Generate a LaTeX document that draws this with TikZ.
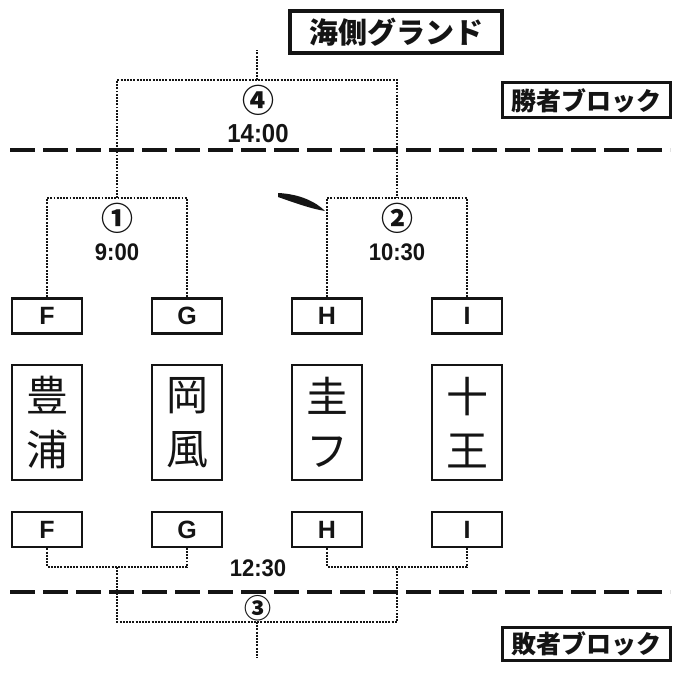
\documentclass[tikz,border=0pt]{standalone}
\usepackage{fontspec}
\setmainfont{Liberation Sans}
\newfontfamily\cjk{Noto Sans CJK JP}
\usepackage{tikz}
\usetikzlibrary{positioning}
\usepackage{xcolor}
\definecolor{ink}{RGB}{20,20,20}
\tikzstyle{teambox} = [rectangle, draw=ink, fill=white, line width=2.8pt, minimum width=70pt, minimum height=35pt, inner sep=0pt, text=ink, font=\bfseries\fontsize{25}{25}\selectfont]
\tikzstyle{namebox} = [rectangle, draw=ink, fill=white, line width=2.6pt, minimum width=70pt, minimum height=115pt, inner sep=0pt, align=center, text=ink, font=\cjk\fontsize{42}{54}\selectfont]
\tikzstyle{blockbox} = [rectangle, draw=ink, fill=white, line width=3pt, minimum width=168pt, minimum height=35pt, inner sep=0pt, text=ink, font=\cjk\bfseries\fontsize{25}{25}\selectfont]
\tikzstyle{bracket} = [draw=ink, line width=2.5pt, dash pattern=on 1.9pt off 1.3pt]
\tikzstyle{divider} = [draw=ink, line width=4pt, dash pattern=on 25pt off 8pt]
\tikzstyle{matchno} = [inner sep=0pt, text=ink, font=\cjk\bfseries\fontsize{32}{32}\selectfont]
\tikzstyle{clock} = [inner sep=0pt, text=ink, xscale=0.92, font=\bfseries\fontsize{24}{24}\selectfont]

\begin{document}
\begin{tikzpicture}[x=1pt, y=-1pt, node distance=140pt]
\useasboundingbox[fill=white] (0,0) rectangle (676,690);
% Blocks
\node (ground) [blockbox, minimum width=212pt, minimum height=42pt, line width=3.5pt, font=\cjk\bfseries\fontsize{29}{29}\selectfont] at (396,32) {海側グランド};
\node (winners) [blockbox] at (586,100.5) {勝者ブロック};
\node (losers) [blockbox, minimum height=33pt] at (586,643.5) {敗者ブロック};

% Dividers
\draw[divider] (10,150) -- (670,150);
\draw[divider] (10,592) -- (670,592);

% Teams, top row
\node (topF) [teambox] at (47,316) {F};
\node (topG) [teambox, right of=topF] {G};
\node (topH) [teambox, right of=topG] {H};
\node (topI) [teambox, right of=topH] {I};

% Names
\node (nameF) [namebox, below of=topF, node distance=106.5pt] {豊\\浦};
\node (nameG) [namebox, below of=topG, node distance=106.5pt] {岡\\風};
\node (nameH) [namebox, below of=topH, node distance=106.5pt] {圭\\フ};
\node (nameI) [namebox, below of=topI, node distance=106.5pt] {十\\王};

% Teams, bottom row
\node (botF) [teambox, below of=nameF, node distance=107pt] {F};
\node (botG) [teambox, below of=nameG, node distance=107pt] {G};
\node (botH) [teambox, below of=nameH, node distance=107pt] {H};
\node (botI) [teambox, below of=nameI, node distance=107pt] {I};

% Joints
\coordinate (m1) at (117,198);
\coordinate (m2) at (397,198);
\coordinate (m4) at (257,80);
\coordinate (topend) at (257,50);
\coordinate (m3a) at (117,567);
\coordinate (m3b) at (397,567);
\coordinate (m3) at (257,622);
\coordinate (botend) at (257,658);

% Brackets
\draw[bracket] (topF.north) |- (m1) -| (topG.north);
\draw[bracket] (topH.north) |- (m2) -| (topI.north);
\draw[bracket] (m1) |- (m4) -| (m2);
\draw[bracket] (m4) -- (topend);
\draw[bracket] (botF.south) |- (m3a) -| (botG.south);
\draw[bracket] (botH.south) |- (m3b) -| (botI.south);
\draw[bracket] (m3a) |- (m3) -| (m3b);
\draw[bracket] (m3) -- (botend);

% Matches
\node (game1) [matchno] at (117,218) {①};
\node (time1) [clock] at (117,252) {9:00};
\node (game2) [matchno] at (397,218) {②};
\node (time2) [clock] at (397,252) {10:30};
\node (game4) [matchno] at (258,100) {④};
\node (time4) [clock, font=\bfseries\fontsize{26}{26}\selectfont] at (258,134) {14:00};
\node (game3) [matchno, font=\cjk\bfseries\fontsize{27}{27}\selectfont] at (258,608) {③};
\node (time3) [clock] at (258,568) {12:30};

% Pen mark
\fill[ink] (278,193) .. controls (300,194) and (316,202) .. (325,211)
  .. controls (312,209) and (295,203) .. (278,197) -- cycle;
\end{tikzpicture}
\end{document}
